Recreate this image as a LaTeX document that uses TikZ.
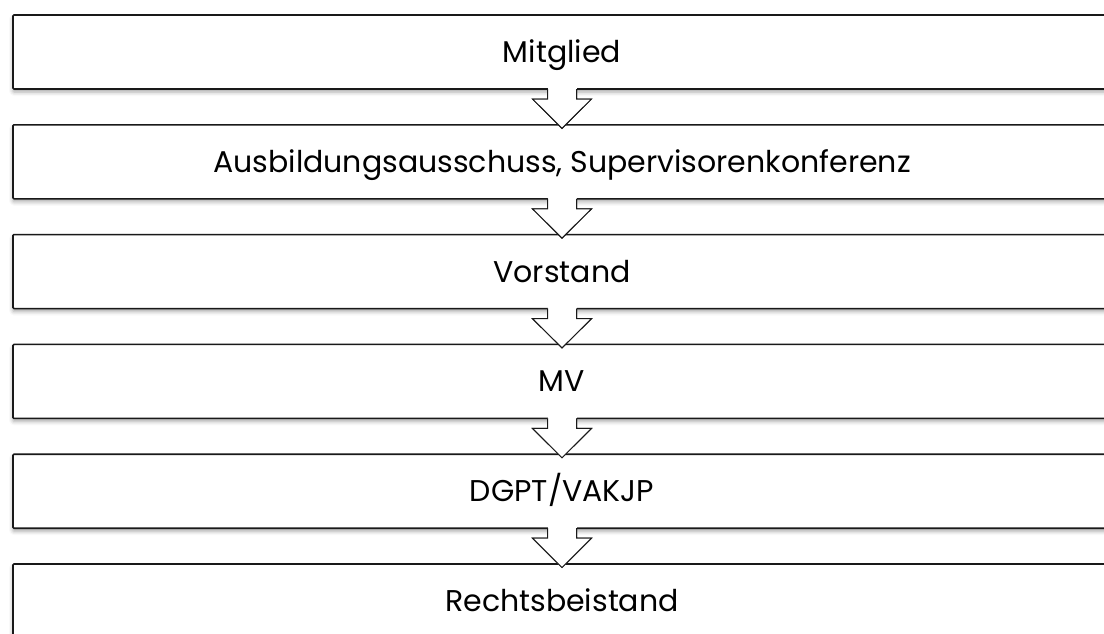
\documentclass[tikz,border=0pt]{standalone}
\usepackage{fontspec}
\setmainfont{Poppins}
\usetikzlibrary{positioning,shadows.blur}

\newcommand{\pfeil}[2]{%
\fill [white] ([xshift=-14.5pt,yshift=3pt]#1.south) rectangle ([xshift=14.5pt,yshift=-1pt]#1.south);
\filldraw [pfeillinie] ([xshift=-14.5pt]#1.south) -- ++(0,-10pt) -- ++(-15pt,0) -- ([yshift=-3.5pt]#2.north)
  -- ([xshift=29.5pt,yshift=-10pt]#1.south) -- ++(-15pt,0) -- ([xshift=14.5pt]#1.south);
\draw [pfeillinie] ([xshift=-14.5pt]#1.south) -- ++(0,-10pt) -- ++(-15pt,0) -- ([yshift=-3.5pt]#2.north)
  -- ([xshift=29.5pt,yshift=-10pt]#1.south) -- ++(-15pt,0) -- ([xshift=14.5pt]#1.south);
}

\begin{document}
\begin{tikzpicture}[x=1pt,y=1pt,
  stufe/.style={draw=black!90, line width=1.6pt, fill=white, rounded corners=1pt,
    minimum width=1098pt, minimum height=74pt, inner sep=0pt, outer sep=0pt,
    text height=21pt, text depth=0pt, font=\fontsize{30}{36}\selectfont,
    blur shadow={shadow xshift=0pt, shadow yshift=-3pt, shadow blur radius=4pt, shadow opacity=35}},
  pfeillinie/.style={draw=black!90, line width=1pt, fill=white, line join=miter},
  node distance=35.8pt]
\useasboundingbox (0,0) rectangle (1104,-633);
\node [stufe] (mitglied) at (562,-52) {Mitglied};
\node [stufe, below=of mitglied] (ausschuss) {Ausbildungsausschuss, Supervisorenkonferenz};
\node [stufe, below=of ausschuss] (vorstand) {Vorstand};
\node [stufe, below=of vorstand] (mv) {MV};
\node [stufe, below=of mv] (dgpt) {DGPT/VAKJP};
\node [stufe, below=of dgpt] (recht) {Rechtsbeistand};
\pfeil{mitglied}{ausschuss}
\pfeil{ausschuss}{vorstand}
\pfeil{vorstand}{mv}
\pfeil{mv}{dgpt}
\pfeil{dgpt}{recht}
\end{tikzpicture}
\end{document}
